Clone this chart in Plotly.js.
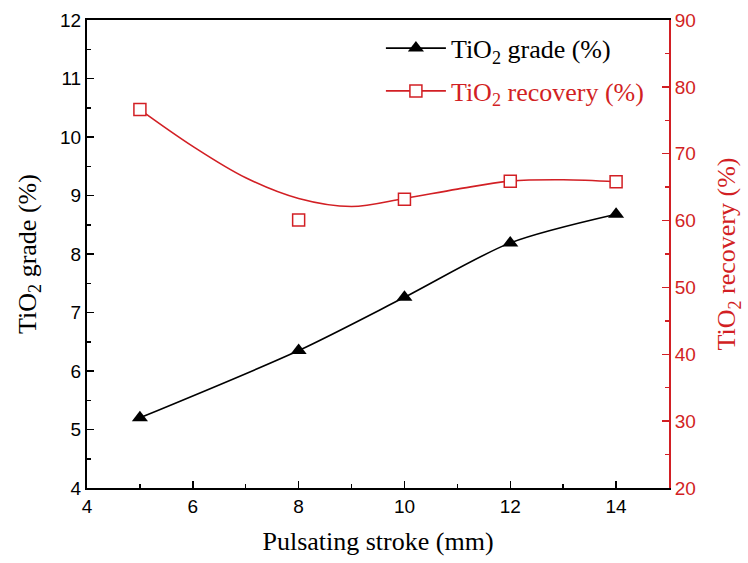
<!DOCTYPE html>
<html>
<head>
<meta charset="utf-8">
<script src="https://cdn.plot.ly/plotly-3.0.1.min.js"></script>
<style>html,body{margin:0;padding:0;background:#fff}#chart{width:748px;height:563px}</style>
</head>
<body>
<div id="chart"></div>
<script>
// Data
var stroke = [5, 8, 10, 12, 14];
var gradeValues = [5.20, 6.35, 7.26, 8.19, 8.68];
var recoveryValues = [76.6, 60.1, 63.2, 65.9, 65.8];
// smoothed curve drawn for recovery (it does not pass through x=8 point)
var recoveryCurveX = [5, 6, 7, 8, 9, 10, 11, 12, 13, 14];
var recoveryCurveY = [76.6, 71.1, 66.4, 63.3, 62.1, 63.3, 64.7, 65.9, 66.1, 65.8];
var xTicks = [4, 6, 8, 10, 12, 14];
var leftTicks = [4, 5, 6, 7, 8, 9, 10, 11, 12];
var rightTicks = [20, 30, 40, 50, 60, 70, 80, 90];

var RED = '#d21f24';
var serif = '"Liberation Serif", "Times New Roman", Times, serif';
var sans = 'Arial, "Liberation Sans", sans-serif';

var traces = [
  {
    x: stroke, y: gradeValues, type: 'scatter', mode: 'lines+markers',
    name: 'TiO<sub>2</sub> grade (%)', legendgroup: 'g1',
    line: {color: '#000', width: 1.6, shape: 'spline', smoothing: 0.8},
    marker: {symbol: 'triangle-up', size: 14, color: '#000'},
    xaxis: 'x', yaxis: 'y'
  },
  {
    x: recoveryCurveX, y: recoveryCurveY, type: 'scatter', mode: 'lines',
    showlegend: false, hoverinfo: 'skip', legendgroup: 'g2',
    line: {color: RED, width: 1.6, shape: 'spline', smoothing: 1},
    xaxis: 'x', yaxis: 'y2'
  },
  {
    x: stroke, y: recoveryValues, type: 'scatter', mode: 'markers',
    showlegend: false, legendgroup: 'g2',
    marker: {symbol: 'square', size: 12, color: '#fff', line: {color: RED, width: 1.5}},
    xaxis: 'x', yaxis: 'y2'
  },
  {
    x: [null], y: [null], type: 'scatter', mode: 'lines+markers',
    name: '<span style="color:' + RED + '">TiO<sub>2</sub> recovery (%)</span>', legendgroup: 'g2',
    line: {color: RED, width: 1.6},
    marker: {symbol: 'square', size: 12, color: '#fff', line: {color: RED, width: 1.5}},
    xaxis: 'x', yaxis: 'y2'
  }
];

var layout = {
  width: 748, height: 563,
  margin: {l: 87, r: 79, t: 20, b: 75},
  paper_bgcolor: '#fff', plot_bgcolor: '#fff',
  showlegend: true,
  legend: {
    x: 0.505, y: 0.99, xanchor: 'left', yanchor: 'top',
    bgcolor: 'rgba(0,0,0,0)', borderwidth: 0,
    font: {family: serif, size: 26, color: '#000'},
    itemwidth: 60, tracegroupgap: 6, traceorder: 'grouped'
  },
  xaxis: {
    range: [4, 15], tickvals: xTicks, ticktext: xTicks.map(String),
    ticks: 'inside', ticklen: 7, tickwidth: 1.5, tickcolor: '#000',
    minor: {dtick: 1, tick0: 4, ticks: 'inside', ticklen: 4, tickwidth: 1.5, tickcolor: '#000'},
    showline: true, linecolor: '#000', linewidth: 2, mirror: true,
    showgrid: false, zeroline: false,
    tickfont: {family: sans, size: 19, color: '#000'},
    title: {text: 'Pulsating stroke (mm)', font: {family: serif, size: 26, color: '#000'}, standoff: 16}
  },
  yaxis: {
    range: [4, 12], tickvals: leftTicks, ticktext: leftTicks.map(String),
    ticks: 'inside', ticklen: 7, tickwidth: 1.5, tickcolor: '#000',
    minor: {dtick: 0.5, tick0: 4, ticks: 'inside', ticklen: 4, tickwidth: 1.5, tickcolor: '#000'},
    showline: true, linecolor: '#000', linewidth: 2,
    showgrid: false, zeroline: false,
    tickfont: {family: sans, size: 19, color: '#000'},
    title: {text: 'TiO<sub>2</sub> grade (%)', font: {family: serif, size: 26, color: '#000'}, standoff: 16}
  },
  yaxis2: {
    range: [20, 90], overlaying: 'y', side: 'right',
    tickvals: rightTicks, ticktext: rightTicks.map(String),
    ticks: 'inside', ticklen: 7, tickwidth: 1.5, tickcolor: RED,
    minor: {dtick: 5, tick0: 20, ticks: 'inside', ticklen: 4, tickwidth: 1.5, tickcolor: RED},
    showline: true, linecolor: RED, linewidth: 2,
    showgrid: false, zeroline: false,
    tickfont: {family: sans, size: 19, color: RED},
    title: {text: 'TiO<sub>2</sub> recovery (%)', font: {family: serif, size: 26, color: RED}, standoff: 22}
  }
};

Plotly.newPlot('chart', traces, layout, {displayModeBar: false, staticPlot: true});
</script>
</body>
</html>
